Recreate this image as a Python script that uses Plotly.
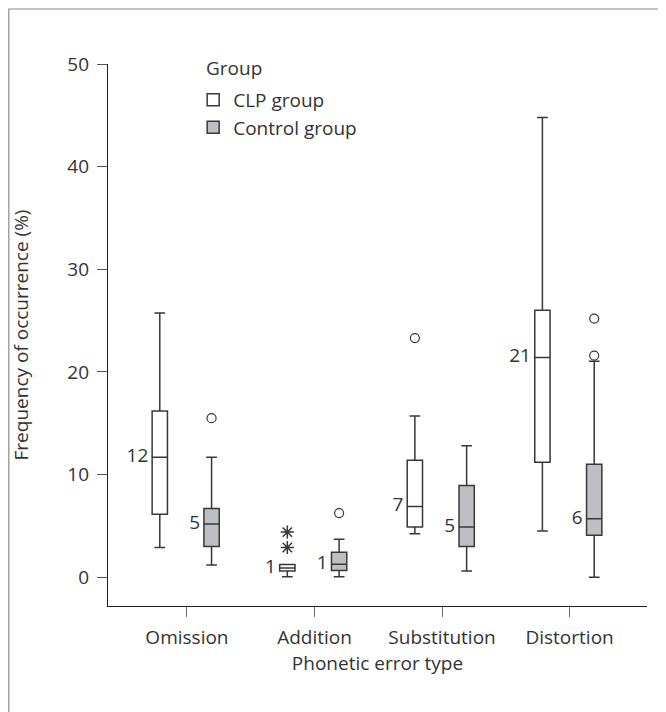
import plotly.graph_objects as go

categories = ["Omission", "Addition", "Substitution", "Distortion"]

clp_q1 = [6.15, 0.6, 4.9, 11.2]
clp_median = [11.7, 0.9, 6.9, 21.4]
clp_q3 = [16.2, 1.25, 11.4, 26.0]
clp_lower = [2.9, 0.05, 4.25, 4.5]
clp_upper = [25.75, 1.25, 15.7, 44.8]
clp_labels = ["12", "1", "7", "21"]

ctl_q1 = [3.0, 0.65, 3.0, 4.1]
ctl_median = [5.2, 1.27, 4.9, 5.7]
ctl_q3 = [6.7, 2.44, 8.94, 11.0]
ctl_lower = [1.2, 0.05, 0.6, 0.0]
ctl_upper = [11.7, 3.7, 12.8, 21.05]
ctl_labels = ["5", "1", "5", "6"]

# outliers (circles) and extremes (stars): (category index, value)
clp_outlier_cat = [2]
clp_outlier_val = [23.3]
clp_extreme_cat = [1, 1]
clp_extreme_val = [4.4, 2.9]
ctl_outlier_cat = [0, 1, 3, 3]
ctl_outlier_val = [15.5, 6.25, 25.2, 21.6]

yticks = [0, 10, 20, 30, 40, 50]

OFF_CLP = -0.213
OFF_CTL = 0.193
BW = 0.12
FONT = "Open Sans"
FS = 19
TXT = "#333333"
LINE = "#383838"

idx = list(range(len(categories)))
x_clp = [i + OFF_CLP for i in idx]
x_ctl = [i + OFF_CTL for i in idx]

fig = go.Figure()

fig.add_trace(go.Box(
    name="CLP group", x=x_clp, q1=clp_q1, median=clp_median, q3=clp_q3,
    lowerfence=clp_lower, upperfence=clp_upper, width=BW, whiskerwidth=0.7,
    fillcolor="white", line=dict(color=LINE, width=1.5), boxpoints=False,
    hoverinfo="skip", legendgroup="clp"))
fig.add_trace(go.Box(
    name="Control group", x=x_ctl, q1=ctl_q1, median=ctl_median, q3=ctl_q3,
    lowerfence=ctl_lower, upperfence=ctl_upper, width=BW, whiskerwidth=0.7,
    fillcolor="#bebfc2", line=dict(color=LINE, width=1.5), boxpoints=False,
    hoverinfo="skip", legendgroup="ctl"))

# outliers
fig.add_trace(go.Scatter(
    x=[i + OFF_CLP for i in clp_outlier_cat], y=clp_outlier_val, mode="markers",
    marker=dict(symbol="circle-open", size=9, color=LINE, line=dict(width=1.2)),
    showlegend=False, hoverinfo="skip"))
fig.add_trace(go.Scatter(
    x=[i + OFF_CTL for i in ctl_outlier_cat], y=ctl_outlier_val, mode="markers",
    marker=dict(symbol="circle-open", size=9, color=LINE, line=dict(width=1.2)),
    showlegend=False, hoverinfo="skip"))
fig.add_trace(go.Scatter(
    x=[i + OFF_CLP for i in clp_extreme_cat], y=clp_extreme_val, mode="markers",
    marker=dict(symbol="asterisk-open", size=11, color=LINE, line=dict(width=1.5, color=LINE)),
    showlegend=False, hoverinfo="skip"))

# median labels
fig.add_trace(go.Scatter(
    x=[v - BW / 2 - 0.03 for v in x_clp], y=clp_median, mode="text",
    text=clp_labels, textposition="middle left",
    textfont=dict(family=FONT, size=FS, color=TXT),
    showlegend=False, hoverinfo="skip"))
fig.add_trace(go.Scatter(
    x=[v - BW / 2 - 0.03 for v in x_ctl], y=ctl_median, mode="text",
    text=ctl_labels, textposition="middle left",
    textfont=dict(family=FONT, size=FS, color=TXT),
    showlegend=False, hoverinfo="skip"))

fig.update_layout(
    width=666, height=712,
    margin=dict(l=100, r=27, t=56, b=114),
    paper_bgcolor="white", plot_bgcolor="white",
    font=dict(family=FONT, size=FS, color=TXT),
    boxmode="overlay",
    showlegend=True,
    legend=dict(
        x=0.158, y=0.969, xanchor="left", yanchor="top",
        bgcolor="rgba(0,0,0,0)", borderwidth=0,
        font=dict(family=FONT, size=FS, color=TXT),
        itemwidth=30, tracegroupgap=0,
    ),
    annotations=[dict(text="Group", xref="paper", yref="paper", x=0.178, y=0.9926,
                      xanchor="left", yanchor="middle", showarrow=False,
                      font=dict(family=FONT, size=FS, color=TXT))],
    xaxis=dict(
        range=[-0.619, 3.607], tickmode="array", tickvals=idx, ticktext=categories,
        showline=True, linecolor="#222222", linewidth=1.3,
        ticks="outside", ticklen=10, tickwidth=1.3, tickcolor="#666666",
        ticklabelstandoff=4,
        showgrid=False, zeroline=False,
        title=dict(text="Phonetic error type", standoff=5, font=dict(size=FS)),
        tickfont=dict(size=FS),
    ),
    yaxis=dict(
        range=[-2.8, 50], tickmode="array", tickvals=yticks,
        showline=True, linecolor="#222222", linewidth=1.3,
        ticks="outside", ticklen=10, tickwidth=1.3, tickcolor="#555555",
        ticklabelstandoff=4,
        showgrid=False, zeroline=False,
        title=dict(text="Frequency of occurrence (%)", standoff=34, font=dict(size=FS)),
        tickfont=dict(size=FS),
    ),
    shapes=[dict(type="rect", xref="paper", yref="paper",
                 x0=-0.184, x1=1.0223, y0=-0.22, y1=1.1015,
                 line=dict(color="#8a8a8a", width=1.2), fillcolor="rgba(0,0,0,0)",
                 layer="below")],
)

fig.write_html("out.html")
